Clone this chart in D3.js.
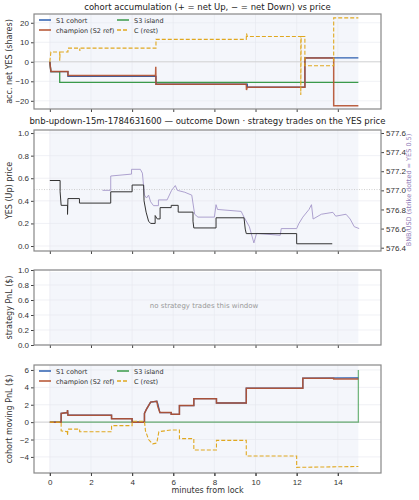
<!DOCTYPE html>
<html>
<head>
<meta charset="utf-8">
<script src="https://cdn.jsdelivr.net/npm/d3@7"></script>
<style>
  body {margin:0; background:#fff; font-family:'DejaVu Sans', sans-serif;}
  .tick text {font-size:8px; fill:#333;}
  .tick line {stroke:#444;}
  .domain {display:none;}
</style>
</head>
<body>
<svg id="chart" width="419" height="500"></svg>
<script>
'use strict'

// panel 1 - accumulated net YES shares
var acc_s1 = [[0,0],[0.05,-5],[0.88,-5],[0.88,-7.5],[5.16,-7.5],[5.16,-11.5],[9.6,-11.5],[9.6,-13],[12.4,-13],[12.4,2],[15,2]];
var acc_champ = [[0,0],[0.05,-5],[0.88,-5],[0.88,-7],[5.14,-7],[5.15,-2.5],[5.16,-11.5],[9.55,-11.5],[9.56,-14.5],[9.6,-13],[12.4,-13],[12.4,2],[13.8,2],[13.8,-22.5],[15,-22.5]];
var acc_s3 = [[0,0],[0.05,-5],[0.48,-5],[0.48,-10.5],[15,-10.5]];
var acc_c = [[0,0],[0.05,5],[0.48,5],[0.48,0.5],[0.5,5],[0.88,5],[0.88,7],[1.45,7],[1.46,5.5],[1.47,7],[5.16,7],[5.16,11.5],[9.55,11.5],[9.56,14.5],[9.6,13],[12.2,13],[12.2,-17],[12.22,13],[12.4,13],[12.4,-2],[13.8,-2],[13.8,22.5],[15,22.5]];

// panel 2 - YES price and BNB/USD
var yes_price = [[0,0.58],[0.5,0.58],[0.5,0.48],[0.55,0.36],[0.86,0.36],[0.86,0.28],[0.88,0.42],[1.44,0.42],[1.44,0.38],[2.96,0.38],[2.96,0.48],[4.0,0.48],[4.0,0.54],[4.56,0.54],[4.58,0.4],[4.68,0.3],[4.8,0.22],[4.9,0.2],[5.12,0.2],[5.12,0.27],[5.22,0.24],[5.36,0.24],[5.36,0.34],[5.9,0.34],[5.9,0.36],[6.24,0.36],[6.24,0.3],[6.96,0.3],[6.96,0.22],[7.0,0.16],[8.08,0.16],[8.08,0.25],[9.44,0.25],[9.5,0.15],[9.55,0.11],[12.0,0.11],[12.0,0.02],[13.73,0.02]];
var bnb = [[2.56,577.0],[2.96,577.0],[2.96,577.15],[3.97,577.17],[3.97,577.22],[4.4,577.22],[4.5,577.18],[4.6,576.95],[4.7,576.92],[4.8,576.95],[4.9,576.88],[5.04,576.84],[5.28,576.84],[5.28,576.9],[5.7,576.9],[5.92,577.0],[6.1,577.05],[6.2,577.0],[6.56,576.98],[6.9,576.95],[7.04,576.75],[7.2,576.72],[8.0,576.72],[8.08,576.85],[8.15,576.8],[9.3,576.78],[9.44,576.72],[9.7,576.62],[9.92,576.45],[10.05,576.55],[11.2,576.53],[11.25,576.6],[12.0,576.6],[12.1,576.65],[12.3,576.72],[12.6,576.8],[12.72,576.85],[12.8,576.7],[13.2,576.75],[13.76,576.77],[13.9,576.73],[14.4,576.75],[14.6,576.7],[14.8,576.62],[15.04,576.6]];

// panel 4 - cohort moving PnL
var pnl_champ = [[0,0],[0.55,0],[0.55,1],[0.85,1.1],[0.86,1.4],[0.88,0.8],[3,0.8],[3,0.4],[4,0.4],[4,0],[4.6,0],[4.6,1],[4.7,1.5],[4.8,1.9],[4.9,2.3],[5.2,2.4],[5.25,1.8],[5.35,1.1],[5.9,1.1],[5.9,0.9],[6.3,0.9],[6.3,1.9],[7,1.9],[7,2.7],[8.1,2.7],[8.1,2.2],[9.55,2.2],[9.55,3.9],[12.3,3.9],[12.3,5.05],[13.8,5.05],[13.8,4.95],[15,4.95]];
var pnl_s1 = [[0,0],[0.55,0],[0.55,1],[0.85,1.1],[0.86,1.4],[0.88,0.8],[3,0.8],[3,0.4],[4,0.4],[4,0],[4.6,0],[4.6,1],[4.7,1.5],[4.8,1.9],[4.9,2.3],[5.2,2.4],[5.25,2.1],[5.35,1.1],[5.9,1.1],[5.9,0.9],[6.3,0.9],[6.3,1.9],[7,1.9],[7,2.7],[8.1,2.7],[8.1,2.2],[9.55,2.2],[9.55,3.9],[12.3,3.9],[12.3,5.05],[15,5.1]];
var pnl_s3 = [[0,0],[15,0],[15,6]];
var pnl_c = [[0,0],[0.55,0],[0.55,-1],[0.85,-1.1],[0.86,-1.5],[0.88,-0.8],[1.45,-0.8],[1.45,-1.1],[3,-1.1],[3,-0.4],[4,-0.4],[4,0.1],[4.6,0.1],[4.65,-1],[4.8,-2],[5,-2.5],[5.2,-2.4],[5.3,-1.1],[5.9,-0.9],[6.3,-0.9],[6.3,-1.9],[7,-1.9],[7,-3.2],[8.1,-3.2],[8.1,-2.1],[9.55,-2.1],[9.55,-3.9],[12,-3.9],[12,-5.2],[15,-5.1]];

var xTicks = [0,2,4,6,8,10,12,14];
var legendItems = [
  {name:"S1 cohort", color:"#2c5fb0", dash:null},
  {name:"S3 island", color:"#3a9a4a", dash:null},
  {name:"champion (S2 ref)", color:"#b5502e", dash:null},
  {name:"C (rest)", color:"#e0a820", dash:"4,2"}
];

var svg = d3.select("#chart");
var L = 34, R = 381;
var x = d3.scaleLinear().domain([-0.77, 16.1]).range([L, R]);
var line = (y) => d3.line().x(d=>x(d[0])).y(d=>y(d[1]));
var minus = f => (d => (d<0 ? "\u2212" : "") + d3.format(f)(Math.abs(d)));

function panel(top, bottom, domain, ticks, fmt, ylab) {
  var y = d3.scaleLinear().domain(domain).range([bottom, top]);
  var g = svg.append("g");
  g.append("rect").attr("x",x(0)).attr("width",x(15)-x(0)).attr("y",top).attr("height",bottom-top).attr("fill","#f4f6fb");
  g.selectAll("line.gx").data(xTicks).enter().append("line")
    .attr("x1",d=>x(d)).attr("x2",d=>x(d)).attr("y1",top).attr("y2",bottom).attr("stroke","#e6e8ee").attr("stroke-width",0.6);
  g.selectAll("line.gy").data(ticks).enter().append("line")
    .attr("x1",L).attr("x2",R).attr("y1",d=>y(d)).attr("y2",d=>y(d)).attr("stroke","#e6e8ee").attr("stroke-width",0.6);
  g.append("g").attr("transform","translate("+L+",0)").call(d3.axisLeft(y).tickValues(ticks).tickSize(3).tickPadding(2).tickFormat(minus(fmt)));
  g.append("g").attr("transform","translate(0,"+bottom+")").call(d3.axisBottom(x).tickValues(xTicks).tickSize(3).tickFormat(""));
  g.append("text").attr("transform","translate(12,"+((top+bottom)/2)+") rotate(-90)").attr("text-anchor","middle").attr("font-size",8).attr("fill","#333").text(ylab);
  return {g:g, y:y, top:top, bottom:bottom};
}
function frame(p) {
  p.g.append("rect").attr("x",L).attr("y",p.top).attr("width",R-L).attr("height",p.bottom-p.top).attr("fill","none").attr("stroke","#888").attr("stroke-width",1.2);
}
function zeroLine(p) {
  p.g.append("line").attr("x1",L).attr("x2",R).attr("y1",p.y(0)).attr("y2",p.y(0)).attr("stroke","#ccc").attr("stroke-width",0.8);
}
function path(p, data, color, w, dash, op) {
  p.g.append("path").datum(data).attr("d",line(p.y)).attr("fill","none").attr("stroke",color)
    .attr("stroke-width",w).attr("stroke-dasharray",dash).attr("opacity",op||1);
}
function legend(p) {
  var lg = p.g.append("g").attr("transform","translate("+(L+5)+","+(p.top+6)+")");
  legendItems.forEach((d,i)=>{
    var cx = (i%2)*78, cy = Math.floor(i/2)*10;
    lg.append("line").attr("x1",cx).attr("x2",cx+12).attr("y1",cy).attr("y2",cy).attr("stroke",d.color).attr("stroke-width",1.5).attr("stroke-dasharray",d.dash);
    lg.append("text").attr("x",cx+17).attr("y",cy+2.5).attr("font-size",6.5).attr("fill","#333").text(d.name);
  });
}
function title(yy, t) {
  svg.append("text").attr("x",(L+R)/2).attr("y",yy).attr("text-anchor","middle").attr("font-size",8.5).attr("fill","#222").text(t);
}

// panel 1
title(10, "cohort accumulation (+ = net Up, \u2212 = net Down) vs price");
var p1 = panel(14, 109, [-24.2, 24.5], [-20,-10,0,10,20], "d", "acc. net YES (shares)");
zeroLine(p1);
path(p1, acc_s3, "#3a9a4a", 1.3);
path(p1, acc_s1, "#2c5fb0", 1.3);
path(p1, acc_champ, "#b5502e", 1.5, null, 0.9);
path(p1, acc_c, "#e0a820", 1.1, "4,2");
legend(p1);
frame(p1);

// panel 2
title(124, "bnb-updown-15m-1784631600 \u2014 outcome Down \u00b7 strategy trades on the YES price");
var p2 = panel(130, 251, [-0.044, 1.027], [0,0.2,0.4,0.6,0.8,1.0], ".1f", "YES (Up) price");
var y2r = d3.scaleLinear().domain([576.4,577.6]).range([247.7,133]);
p2.g.append("line").attr("x1",L).attr("x2",R).attr("y1",p2.y(0.5)).attr("y2",p2.y(0.5)).attr("stroke","#bbb").attr("stroke-width",0.7).attr("stroke-dasharray","1,1.5");
p2.g.append("path").datum(bnb).attr("d",d3.line().x(d=>x(d[0])).y(d=>y2r(d[1]))).attr("fill","none").attr("stroke","#a597c9").attr("stroke-width",0.9);
path(p2, yes_price, "#333", 1.0);
var ra = p2.g.append("g").attr("transform","translate("+R+",0)").call(d3.axisRight(y2r).tickValues([576.4,576.6,576.8,577.0,577.2,577.4,577.6]).tickSize(3).tickPadding(2).tickFormat(d3.format(".1f")));
ra.selectAll("text").attr("fill","#8e7bb8");
ra.selectAll("line").attr("stroke","#8e7bb8");
p2.g.append("text").attr("transform","translate(411,190) rotate(-90)").attr("text-anchor","middle").attr("font-size",6.5).attr("fill","#8e7bb8").text("BNB/USD (strike dotted = YES 0.5)");
frame(p2);

// panel 3
var p3 = panel(270, 345, [0, 1], [0,0.2,0.4,0.6,0.8,1.0], ".1f", "strategy PnL ($)");
p3.g.select("rect").attr("y",272).attr("height",71);
p3.g.append("text").attr("x",x(7.5)).attr("y",p3.y(0.5)).attr("text-anchor","middle").attr("font-size",7).attr("fill","#999").text("no strategy trades this window");
frame(p3);

// panel 4
var p4 = panel(365, 473, [-5.85, 6.57], [-4,-2,0,2,4,6], "d", "cohort moving PnL ($)");
zeroLine(p4);
path(p4, pnl_s3, "#3a9a4a", 1.3, null, 0.7);
path(p4, pnl_s1, "#2c5fb0", 1.3);
path(p4, pnl_champ, "#b5502e", 1.5, null, 0.9);
path(p4, pnl_c, "#e0a820", 1.1, "4,2");
legend(p4);
frame(p4);
p4.g.append("g").attr("transform","translate(0,473)").call(d3.axisBottom(x).tickValues(xTicks).tickSize(3));
svg.append("text").attr("x",(L+R)/2).attr("y",493).attr("text-anchor","middle").attr("font-size",8).attr("fill","#333").text("minutes from lock");
</script>
</body>
</html>
